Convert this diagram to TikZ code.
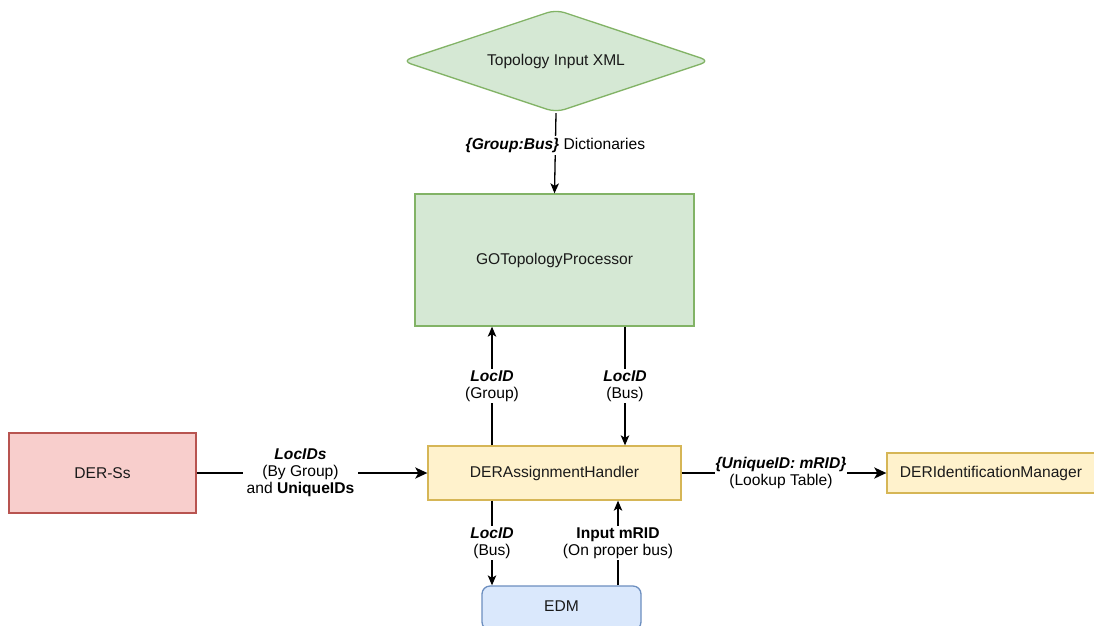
\documentclass[tikz,border=0pt]{standalone}
\usepackage{fontspec}
\setmainfont{Liberation Sans}
\usetikzlibrary{shapes.geometric,arrows.meta}
\definecolor{grfill}{HTML}{D5E8D4}\definecolor{grline}{HTML}{82B366}
\definecolor{rdfill}{HTML}{F8CECC}\definecolor{rdline}{HTML}{B85450}
\definecolor{ylfill}{HTML}{FFF2CC}\definecolor{ylline}{HTML}{D6B656}
\definecolor{blfill}{HTML}{DAE8FC}\definecolor{blline}{HTML}{6C8EBF}
\definecolor{ink}{HTML}{1A1A1A}
\tikzset{
  box/.style={draw, line width=1.3pt, inner sep=0pt, align=center, text=ink},
  greenbox/.style={box, fill=grfill, draw=grline},
  redbox/.style={box, fill=rdfill, draw=rdline},
  yellowbox/.style={box, fill=ylfill, draw=ylline},
  bluebox/.style={box, fill=blfill, draw=blline, rounded corners=8pt},
  flow/.style={line width=1.3pt, -{Stealth[length=10pt,width=8.5pt,inset=2.5pt]}},
  bigflow/.style={line width=2.6pt, -{Stealth[length=12pt,width=11pt,inset=3pt]}},
  lbl/.style={fill=white, inner sep=2pt, align=center, text=black}
}
\begin{document}
\begin{tikzpicture}[x=1pt, y=-1pt, font=\fontsize{15.6}{17}\selectfont]
\useasboundingbox (0,0) rectangle (1094,625);

% blocks
\node[greenbox, diamond, aspect=3.02, rounded corners=9pt,
      minimum width=308, minimum height=103] (xml) at (556,61) {Topology Input XML};
\node[greenbox, minimum width=279, minimum height=132] (gotp) at (554.5,260) {GOTopologyProcessor};
\node[yellowbox, minimum width=253, minimum height=54] (dah) at (554.5,473) {DERAssignmentHandler};
\node[redbox, minimum width=187, minimum height=80] (ders) at (102.5,473) {DER-Ss};
\node[yellowbox, minimum width=208, minimum height=40] (dim) at (991,473) {DERIdentificationManager};
\node[bluebox, minimum width=159, minimum height=44] (edm) at (561.5,608) {};
\node[text=ink] (edmtext) at (561.5,606) {EDM};

% topology input to processor
\draw[flow] (xml.south) -- node[lbl, pos=0.4] {\textbf{\textit{\{Group:Bus\}}} Dictionaries} (gotp.north);

% processor <-> assignment handler
\draw[flow] (dah.north -| 492,0) -- node[lbl] {\textbf{\textit{LocID}}\\(Group)} (gotp.south -| 492,0);
\draw[flow] (gotp.south -| 625,0) -- node[lbl] {\textbf{\textit{LocID}}\\(Bus)} (dah.north -| 625,0);

% DER-Ss to assignment handler
\draw[bigflow] (ders.east) -- node[lbl, pos=0.45, inner xsep=4pt] {\textbf{\textit{LocIDs}}\\(By Group)\\and \textbf{UniqueIDs}} (dah.west);

% assignment handler to identification manager
\draw[bigflow] (dah.east) -- node[lbl, pos=0.485, inner xsep=1pt] {\textbf{\textit{\{UniqueID: mRID\}}}\\(Lookup Table)} (dim.west);

% assignment handler <-> EDM
\draw[flow] (dah.south -| 492,0) -- node[lbl] {\textbf{\textit{LocID}}\\(Bus)} (edm.north -| 492,0);
\draw[flow] (edm.north -| 618,0) -- node[lbl] {\textbf{Input mRID}\\(On proper bus)} (dah.south -| 618,0);
\end{tikzpicture}
\end{document}
